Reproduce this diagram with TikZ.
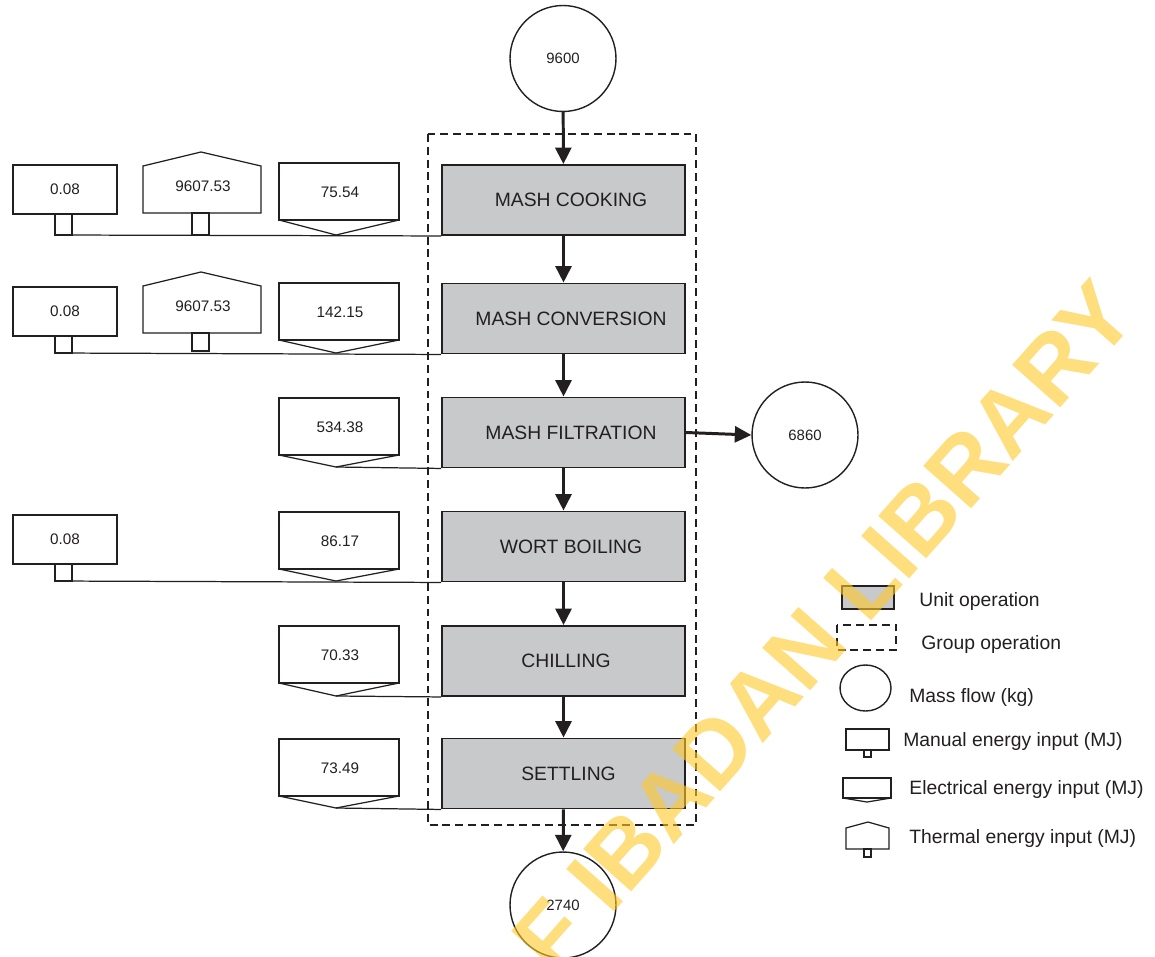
\documentclass[tikz,border=0pt]{standalone}
\usepackage{fontspec}
\setmainfont{Liberation Sans}
\usetikzlibrary{arrows.meta,shapes.geometric}
\definecolor{ink}{HTML}{231F20}
\definecolor{unitgray}{HTML}{C8C9CB}
\definecolor{wmark}{RGB}{255,200,40}
\tikzset{
  unitop/.style={draw=ink, line width=1.1pt, fill=unitgray, minimum width=4.86cm, minimum height=1.4cm, inner sep=0pt, font=\fontsize{11}{13}\selectfont, text=ink},
  massflow/.style={draw=ink, line width=0.8pt, circle, minimum size=2.12cm, inner sep=0pt, font=\fontsize{8.5}{10}\selectfont, text=ink},
  flow/.style={draw=ink, line width=1.7pt, -{Triangle[length=0.33cm,width=0.32cm]}},
  eshape/.style={draw=ink, line width=0.7pt},
  elink/.style={draw=ink, line width=0.7pt},
  evalue/.style={font=\fontsize{8.7}{10}\selectfont, text=ink, inner sep=0pt},
  groupop/.style={draw=ink, line width=1.4pt, dash pattern=on 4.5pt off 2.8pt},
  legtext/.style={font=\fontsize{11}{13}\selectfont, text=ink, anchor=west, inner sep=0pt},
}
\newcommand{\manualE}[4]{%
  \draw[eshape] (13,#2) rectangle (117,#2+49);
  \node[evalue] (#1) at (65,#2+24) {#4};
  \draw[eshape] (55,#2+49) rectangle (72,#3);
  \coordinate (#1s) at (55,#3);
}
\newcommand{\thermalE}[4]{%
  \draw[eshape] (143,#2) -- (201,#2-14) -- (261,#2) -- (261,#2+47) -- (143,#2+47) -- cycle;
  \node[evalue] (#1) at (203,#2+20) {#4};
  \draw[eshape] (192,#2+47) rectangle (209,#3);
}
\newcommand{\electricE}[4]{%
  \draw[eshape] (279,#2) rectangle (399,#2+57);
  \draw[eshape] (279,#2+57) -- (336,#3) -- (399,#2+57);
  \node[evalue] (#1) at (340,#2+29) {#4};
  \coordinate (#1s) at (336,#3);
}
\begin{document}
\begin{tikzpicture}[x=0.02cm,y=-0.02cm]
\useasboundingbox (0,0) rectangle (1155,956);
\clip (0,0) rectangle (1155,956);
\fill[white] (0,0) rectangle (1155,956);

% group operation
\draw[groupop] (428,134) rectangle (696,825);

% unit operations
\node[unitop] (cook)   at (563.5,200)   {\hspace*{0.3cm}MASH COOKING};
\node[unitop] (conv)   at (563.5,318.5) {\hspace*{0.3cm}MASH CONVERSION};
\node[unitop] (filt)   at (563.5,432.5) {\hspace*{0.3cm}MASH FILTRATION};
\node[unitop] (wort)   at (563.5,546.5) {\hspace*{0.3cm}WORT BOILING};
\node[unitop] (chill)  at (563.5,661)   {\hspace*{0.1cm}CHILLING};
\node[unitop] (settle) at (563.5,773.5) {\hspace*{0.2cm}SETTLING};

% mass flows
\node[massflow] (in)    at (563,58.5) {9600};
\node[massflow] (out)   at (563,905)  {\raisebox{-0.12cm}{2740}};
\node[massflow] (waste) at (805,435)  {6860};

\draw[flow] (in) -- (cook);
\draw[flow] (cook) -- (conv);
\draw[flow] (conv) -- (filt);
\draw[flow] (filt) -- (wort);
\draw[flow] (wort) -- (chill);
\draw[flow] (chill) -- (settle);
\draw[flow] (settle) -- (out);
\draw[flow] (filt.east) -- (waste.west);

% energy inputs
\manualE{m1}{165}{235}{0.08}
\thermalE{t1}{166}{235}{9607.53}
\electricE{e1}{163}{235}{75.54}
\draw[elink] (m1s) -- (cook.south west);

\manualE{m2}{287}{353}{0.08}
\thermalE{t2}{286}{351}{9607.53}
\electricE{e2}{283}{353}{142.15}
\draw[elink] (m2s) -- (conv.south west);

\electricE{e3}{398}{467}{534.38}
\draw[elink] (e3s) -- (filt.south west);

\manualE{m4}{515}{581}{0.08}
\electricE{e4}{512}{581}{86.17}
\draw[elink] (m4s) -- (wort.south west);

\electricE{e5}{626}{696}{70.33}
\draw[elink] (e5s) -- (chill.south west);

\electricE{e6}{739}{808}{73.49}
\draw[elink] (e6s) -- (settle.south west);

% legend
\node[draw=ink, line width=1.1pt, fill=unitgray, minimum width=1.04cm, minimum height=0.46cm, inner sep=0pt] (lu) at (868,597.5) {};
\node[legtext] (lut) at (919,601) {Unit operation};
\draw[groupop] (837,625) rectangle (896,650);
\node[legtext] (lgt) at (921,644) {Group operation};
\node[draw=ink, line width=0.8pt, ellipse, minimum width=1.02cm, minimum height=0.92cm, inner sep=0pt] (lm) at (865.5,688) {};
\node[legtext] (lmt) at (909,697) {Mass flow (kg)};
\draw[eshape] (846,729) rectangle (889,750);
\draw[eshape] (864,750) rectangle (871,757);
\node[legtext] (lmat) at (903,741) {Manual energy input (MJ)};
\draw[eshape] (843,778) rectangle (891,798);
\draw[eshape] (843,798) -- (867,802) -- (891,798);
\node[legtext] (let) at (909,789) {Electrical energy input (MJ)};
\draw[eshape] (846,828) -- (868,822) -- (889,828) -- (889,849) -- (846,849) -- cycle;
\draw[eshape] (864,849) rectangle (871,857);
\node[legtext] (ltt) at (909,838) {Thermal energy input (MJ)};

% watermark
\node[rotate=48.5, anchor=base east, text=wmark, text opacity=0.6, inner sep=0pt, font=\bfseries\fontsize{53}{58}\selectfont] (wm) at (1140,318) {F IBADAN LIBRARY};
\end{tikzpicture}
\end{document}
